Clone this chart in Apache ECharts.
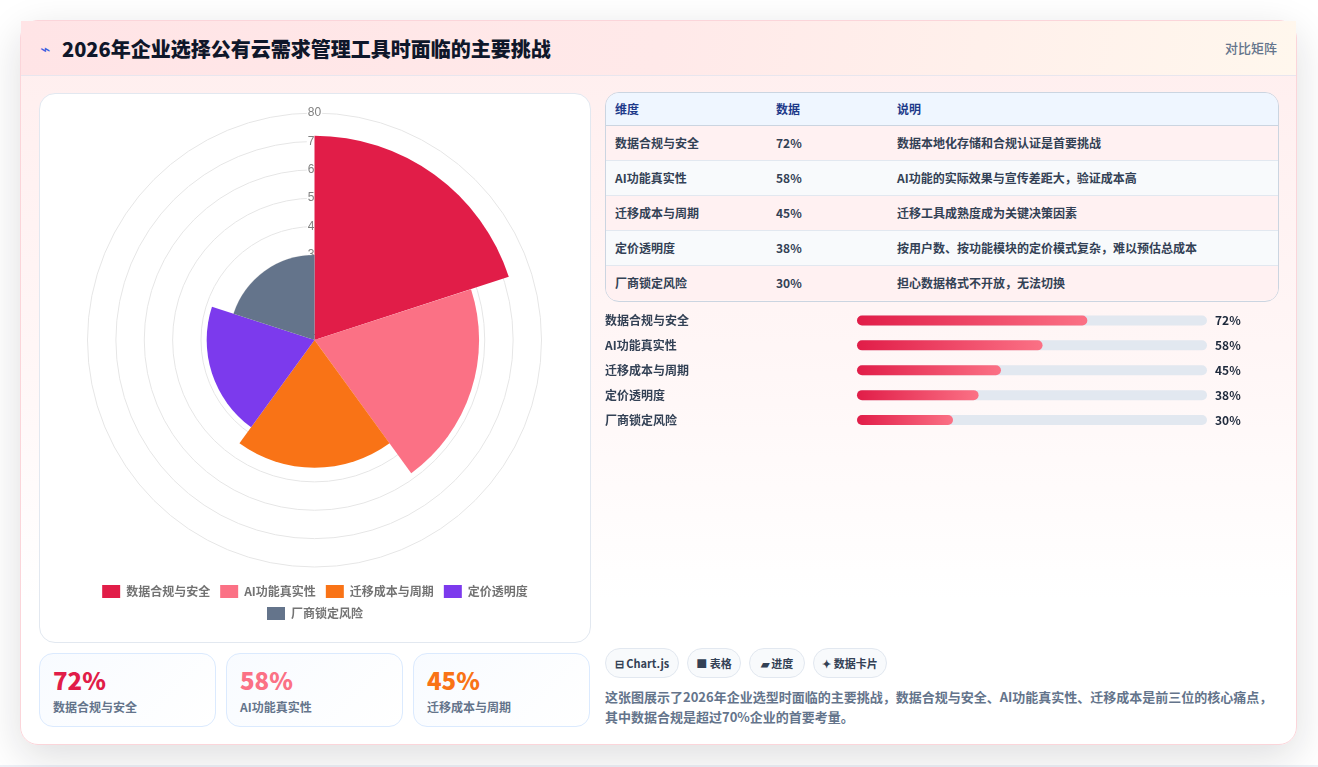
<!DOCTYPE html>
<html>
<head>
<meta http-equiv="Content-Type" content="text/html;charset=utf-8">
<title>2026年企业选择公有云需求管理工具时面临的主要挑战</title>
<style type="text/css">
html,body{
	margin: 0;
	padding: 0;
	width: 1318px;
	height: 767px;
	overflow: hidden;
	font-family: "Noto Sans CJK SC", "Noto Sans", sans-serif;
	background: #ffffff;
}
.foot { position: absolute; left: 0; top: 765px; width: 1318px; height: 2px; background: #eef1f7; }
.card {
	position: absolute; left: 20px; top: 20px; width: 1277px; height: 725px;
	box-sizing: border-box; border: 1px solid #fbd5da; border-radius: 18px;
	background: linear-gradient(180deg, #ffeeee 0%, #fff6f6 45%, #ffffff 80%);
	box-shadow: 0 12px 40px rgba(20,20,30,.14);
}
.head {
	position: absolute; left: 0; top: 0; right: 0; height: 55px; box-sizing: border-box;
	border-bottom: 1px solid #e8e6ee;
	background: linear-gradient(100deg, #ffe4e6 0%, #ffe9e9 50%, #fff7ed 100%);
}
.icon { position: absolute; left: 19px; top: 18px; font-size: 17px; line-height: 20px; color: #4060e0; font-family: "DejaVu Sans"; }
h1 { position: absolute; left: 41px; top: 13px; margin: 0; font-size: 20px; line-height: 30px; font-weight: 800; color: #0f172a; }
.tag { position: absolute; right: 19px; top: 17px; font-size: 13px; line-height: 20px; color: #64748b; font-weight: 500; }
.panel {
	position: absolute; left: 39px; top: 93px; width: 552px; height: 550px; box-sizing: border-box;
	background: #fff; border: 1px solid #e2e8f0; border-radius: 16px;
}
#polar { position: absolute; left: 0; top: 0; width: 550px; height: 548px; }
.stat {
	position: absolute; top: 653px; width: 177px; height: 74px; box-sizing: border-box;
	border: 1px solid #dbeafe; border-radius: 14px;
	background: linear-gradient(135deg, #f8fbff 0%, #ffffff 100%);
}
.stat b { position: absolute; left: 13px; top: 9px; font-size: 24px; line-height: 34px; font-weight: 900; }
.stat span { position: absolute; left: 13px; top: 43px; font-size: 12px; line-height: 20px; color: #64748b; font-weight: 600; }
.tbl {
	position: absolute; left: 605px; top: 92px; width: 674px; height: 210px; box-sizing: border-box;
	border: 1px solid #cbd5e1; border-radius: 14px; overflow: hidden; font-size: 12px;
}
table { border-collapse: collapse; width: 672px; table-layout: fixed; }
th { height: 32px; padding: 0 0 1px 9px; box-sizing: border-box; text-align: left; color: #1e3a8a; background: #eff6ff; font-weight: 700; border-bottom: 1px solid #cbd5e1; }
td { height: 35px; padding: 0 0 1px 9px; box-sizing: border-box; color: #334155; font-weight: 600; border-bottom: 1px solid #e2e8f0; }
tr:last-child td { border-bottom: 0; }
tr.odd td { background: #fff1f2; }
tr.even td { background: #f8fafc; }
#bars { position: absolute; left: 605px; top: 308px; width: 674px; height: 125px; }
.chip {
	position: absolute; top: 648px; height: 30px; box-sizing: border-box;
	border: 1px solid #e2e8f0; border-radius: 15px; background: #f8fafc;
	font-size: 11px; line-height: 28px; font-weight: 600; color: #334155; text-align: center; white-space: nowrap;
}
.note { position: absolute; left: 605px; top: 687px; width: 670px; margin: 0; font-size: 13px; line-height: 20px; font-weight: 600; color: #64748b; }
</style>
</head>
<body>
<div class="foot"></div>
<div class="card">
	<div class="head">
		<span class="icon">⌁</span>
		<h1>2026年企业选择公有云需求管理工具时面临的主要挑战</h1>
		<span class="tag">对比矩阵</span>
	</div>
</div>
<div class="panel"><div id="polar"></div></div>
<div id="stats"></div>
<div class="tbl"><table id="tbl"></table></div>
<div id="bars"></div>
<div id="chips"></div>
<p class="note">这张图展示了2026年企业选型时面临的主要挑战，数据合规与安全、AI功能真实性、迁移成本是前三位的核心痛点，<br>其中数据合规是超过70%企业的首要考量。</p>

<script src="https://cdn.jsdelivr.net/npm/echarts@6/dist/echarts.min.js"></script>
<script type="text/javascript">
var categories = ['数据合规与安全', 'AI功能真实性', '迁移成本与周期', '定价透明度', '厂商锁定风险'];
var values = [72, 58, 45, 38, 30];
var notes = [
	'数据本地化存储和合规认证是首要挑战',
	'AI功能的实际效果与宣传差距大，验证成本高',
	'迁移工具成熟度成为关键决策因素',
	'按用户数、按功能模块的定价模式复杂，难以预估总成本',
	'担心数据格式不开放，无法切换'
];
var colors = ['#e11d48', '#fb7185', '#f97316', '#7c3aed', '#64748b'];
var tableHead = ['维度', '数据', '说明'];
var chipLabels = ['⊟ Chart.js', '■ 表格', '▰ 进度', '✦ 数据卡片'];
var chipLeft = [605, 687, 749, 813];
var chipWidth = [74, 54, 56, 74];
var statLeft = [39, 226, 413];
var fontCJK = '"Noto Sans CJK SC", "Noto Sans", sans-serif';

// table
var html = '<colgroup><col style="width:161px"><col style="width:121px"><col></colgroup><tr>';
for (var i = 0; i < tableHead.length; i++) html += '<th>' + tableHead[i] + '</th>';
html += '</tr>';
for (var i = 0; i < categories.length; i++) {
	html += '<tr class="' + (i % 2 ? 'even' : 'odd') + '"><td>' + categories[i] + '</td><td>' + values[i] + '%</td><td>' + notes[i] + '</td></tr>';
}
document.getElementById('tbl').innerHTML = html;

// stat cards, top three only
var s = '';
for (var i = 0; i < 3; i++) {
	s += '<div class="stat" style="left:' + statLeft[i] + 'px"><b style="color:' + colors[i] + '">' + values[i] + '%</b><span>' + categories[i] + '</span></div>';
}
document.getElementById('stats').innerHTML = s;

var c = '';
for (var i = 0; i < chipLabels.length; i++) {
	c += '<div class="chip" style="left:' + chipLeft[i] + 'px;width:' + chipWidth[i] + 'px">' + chipLabels[i] + '</div>';
}
document.getElementById('chips').innerHTML = c;

// polar area: one stacked series per category so the legend gets one entry each
var polarSeries = [];
for (var i = 0; i < categories.length; i++) {
	var d = [];
	for (var j = 0; j < categories.length; j++) d.push(i == j ? values[j] : '-');
	polarSeries.push({
		name: categories[i],
		type: 'bar',
		coordinateSystem: 'polar',
		stack: 'all',
		barCategoryGap: '0%',
		itemStyle: { color: colors[i] },
		data: d
	});
}
var legendBase = {
	left: 'center',
	itemWidth: 18,
	itemHeight: 13,
	itemGap: 10,
	icon: 'rect',
	textStyle: { color: '#737373', fontSize: 12, fontWeight: 700, fontFamily: fontCJK, padding: [0, 0, 0, 1] }
};
var polarChart = echarts.init(document.getElementById('polar'));
polarChart.setOption({
	animation: false,
	polar: { center: [274.5, 246], radius: 227 },
	angleAxis: {
		type: 'category',
		data: categories,
		startAngle: 90,
		clockwise: true,
		show: false
	},
	radiusAxis: {
		min: 0,
		max: 80,
		interval: 10,
		axisLine: { show: false },
		axisTick: { show: false },
		splitLine: { lineStyle: { color: '#e6e6e6', width: 1 } },
		axisLabel: {
			margin: 0,
			align: 'center',
			verticalAlign: 'middle',
			color: '#808080',
			fontSize: 12,
			fontFamily: '"Liberation Sans", Arial, sans-serif',
			backgroundColor: '#fff',
			padding: [0, 1]
		}
	},
	legend: [
		Object.assign({ top: 486, data: categories.slice(0, 4) }, legendBase),
		Object.assign({ top: 508, data: categories.slice(4) }, legendBase)
	],
	series: polarSeries
});

// progress bars
var barData = [];
var valueLabels = [];
for (var i = 0; i < values.length; i++) {
	valueLabels.push(values[i] + '%');
	barData.push({
		value: values[i],
		itemStyle: {
			color: { type: 'linear', x: 0, y: 0, x2: 1, y2: 0, colorStops: [
				{ offset: 0, color: '#e11d48' }, { offset: 1, color: '#fb7185' }
			] }
		}
	});
}
var barChart = echarts.init(document.getElementById('bars'));
barChart.setOption({
	animation: false,
	grid: { left: 252, top: 0, width: 350, height: 124.5, outerBoundsMode: 'none' },
	xAxis: { type: 'value', min: 0, max: 109.4, show: false },
	yAxis: [
		{
			type: 'category', inverse: true, data: categories,
			axisLine: { show: false }, axisTick: { show: false },
			axisLabel: { margin: 252, align: 'left', color: '#334155', fontSize: 12, fontWeight: 600, fontFamily: fontCJK }
		},
		{
			type: 'category', inverse: true, position: 'right', data: valueLabels,
			axisLine: { show: false }, axisTick: { show: false },
			axisLabel: { margin: 8, align: 'left', color: '#1e293b', fontSize: 12, fontWeight: 700, fontFamily: fontCJK }
		}
	],
	series: [{
		type: 'bar',
		yAxisIndex: 0,
		barWidth: 10,
		showBackground: true,
		backgroundStyle: { color: '#e2e8f0', borderRadius: 5 },
		itemStyle: { borderRadius: 5 },
		data: barData
	}]
});
</script>
</body>
</html>
